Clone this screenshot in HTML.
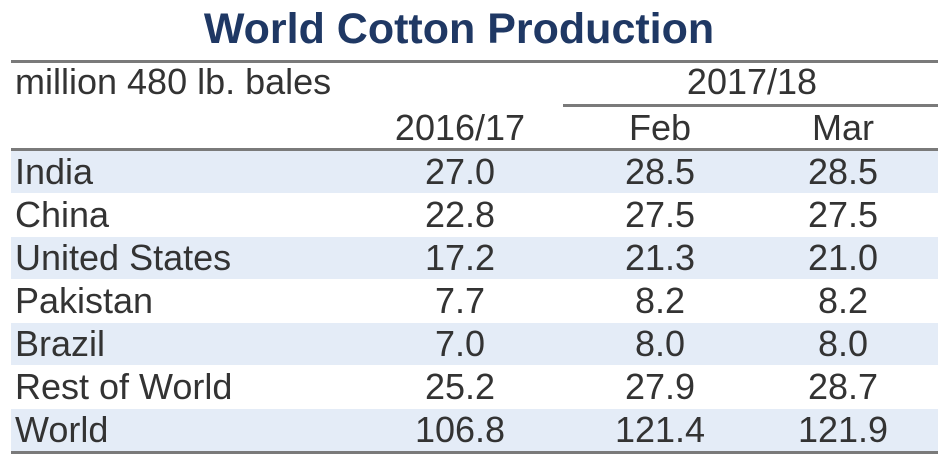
<!DOCTYPE html>
<html><head><meta charset="utf-8"><style>
body{margin:0;width:950px;height:465px;background:#fff;position:relative;overflow:hidden;font-family:"Liberation Sans",Arial,sans-serif;color:#333}
.t{position:absolute;white-space:nowrap;line-height:1}
.ln{position:absolute;height:3px;background:#7a7a7a}
.row{position:absolute;left:11px;width:927px;height:42px}
.c{position:absolute;font-size:36px;top:3px;line-height:1;white-space:nowrap;transform:translateX(-50%)}
</style></head><body>
<div class="t" style="left:0;width:918px;text-align:center;top:8px;font-size:43px;font-weight:bold;color:#1f3864">World Cotton Production</div>
<div class="ln" style="left:11px;width:927px;top:60px"></div>
<div class="t" style="left:15px;top:64px;font-size:36px">million 480 lb. bales</div>
<div class="t" style="left:752px;transform:translateX(-50%);top:64px;font-size:36px">2017/18</div>
<div class="ln" style="left:563px;width:375px;top:104px"></div>
<div class="t" style="left:460px;transform:translateX(-50%);top:110px;font-size:36px">2016/17</div>
<div class="t" style="left:660px;transform:translateX(-50%);top:110px;font-size:36px">Feb</div>
<div class="t" style="left:843px;transform:translateX(-50%);top:110px;font-size:36px">Mar</div>
<div class="ln" style="left:11px;width:927px;top:148px"></div>
<div id="rows"></div>
<div class="ln" style="left:11px;width:927px;top:451px"></div>
<script>
const countries=["India","China","United States","Pakistan","Brazil","Rest of World","World"];
const y2016=["27.0","22.8","17.2","7.7","7.0","25.2","106.8"];
const feb=["28.5","27.5","21.3","8.2","8.0","27.9","121.4"];
const mar=["28.5","27.5","21.0","8.2","8.0","28.7","121.9"];
const host=document.getElementById('rows');
countries.forEach((n,i)=>{
  const r=document.createElement('div');
  r.className='row';
  
  
  r.style.top=(151+i*43)+'px';
  r.style.background=i%2===0?'#e4ecf7':'#fff';
  const cells=[[n,4,false],[y2016[i],449,true],[feb[i],649,true],[mar[i],832,true]];
  cells.forEach((c,j)=>{
    const d=document.createElement('div');
    d.className='c';
    
    
    d.textContent=c[0];
    d.style.left=c[1]+'px';
    if(!c[2])d.style.transform='none';
    r.appendChild(d);
  });
  host.appendChild(r);
});
</script>
</body></html>
